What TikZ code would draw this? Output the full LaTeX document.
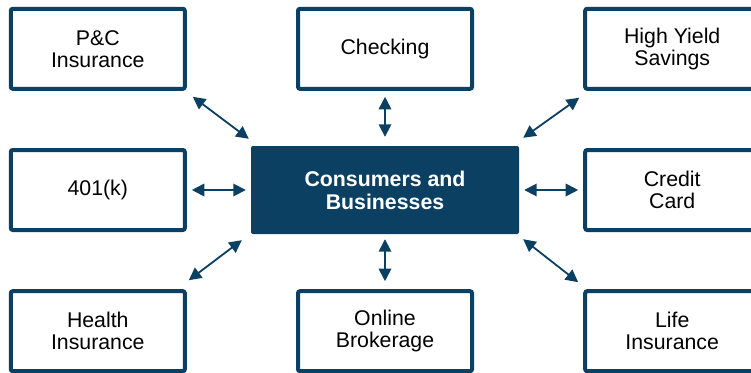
\documentclass[tikz,border=0pt]{standalone}
\usepackage{fontspec}
\setmainfont{Liberation Sans}
\usepackage{tikz}
\usetikzlibrary{arrows.meta,positioning}
\definecolor{navy}{RGB}{11,64,99}

\begin{document}
\begin{tikzpicture}[x=1pt,y=1pt,node distance=55pt and 64pt,
    product/.style={draw=navy,line width=4pt,rounded corners=2pt,fill=white,
      minimum width=174pt,minimum height=80pt,align=center,
      font=\fontsize{21.3}{22}\selectfont},
    hub/.style={fill=navy,text=white,rounded corners=2pt,minimum width=268pt,
      minimum height=88pt,align=center,font=\fontsize{21.3}{23}\selectfont\bfseries},
    link/.style={draw=navy,line width=1.8pt,<->,>={Triangle[length=12.5pt,width=12.5pt]}}]

  \useasboundingbox (0,0) rectangle (751,-372);

  \node[hub] (hub) at (385,-190) {Consumers and\\Businesses};

  \node[product] (pc)       [above left=of hub]  {P\&C\\Insurance};
  \node[product] (checking) [above=of hub]       {Checking};
  \node[product] (savings)  [above right=of hub] {High Yield\\Savings};
  \node[product] (retire)   [left=of hub]        {401(k)};
  \node[product] (credit)   [right=of hub]       {Credit\\Card};
  \node[product] (health)   [below left=of hub]  {Health\\Insurance};
  \node[product] (broker)   [below=of hub]       {Online\\Brokerage};
  \node[product] (life)     [below right=of hub] {Life\\Insurance};

  % spokes out of the hub
  \draw[link] ([shift={(6,-6)}]pc.south east) -- ([shift={(-2,7)}]hub.north west);
  \draw[link,shorten <=6pt,shorten >=9pt] (checking.south) -- (hub.north);
  \draw[link] ([shift={(-4,-7)}]savings.south west) -- ([shift={(4,8)}]hub.north east);
  \draw[link,shorten <=5pt,shorten >=5pt] (retire.east) -- (hub.west);
  \draw[link,shorten <=5pt,shorten >=5pt] (credit.west) -- (hub.east);
  \draw[link] ([shift={(2,9)}]health.north east) -- ([shift={(-9,-6)}]hub.south west);
  \draw[link,shorten <=8pt,shorten >=5pt] (broker.north) -- (hub.south);
  \draw[link] ([shift={(-5,7)}]life.north west) -- ([shift={(4,-5)}]hub.south east);
\end{tikzpicture}
\end{document}
